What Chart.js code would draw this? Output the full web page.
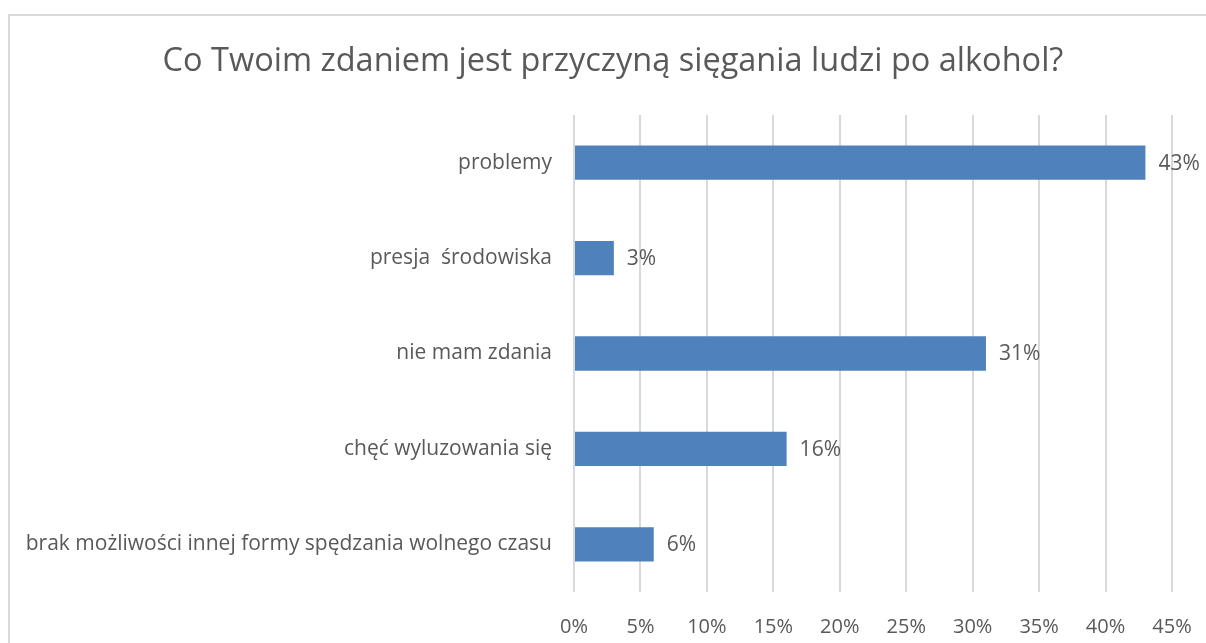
<!DOCTYPE html>
<html>
<head>
<meta charset="utf-8">
<script src="https://cdn.jsdelivr.net/npm/chart.js@4/dist/chart.umd.min.js"></script>
<style>
  html, body { margin: 0; padding: 0; background: #fff; overflow: hidden; }
  #frame {
    position: absolute; left: 8px; top: 14px; width: 1250px; height: 700px;
    border-left: 2px solid #d9d9d9; border-top: 2px solid #d9d9d9;
  }
  #wrap { position: absolute; left: 0; top: 0; width: 1206px; height: 643px; }
</style>
</head>
<body>
<div id="frame"></div>
<div id="wrap"><canvas id="reasonsChart"></canvas></div>
<script>
  const chartTitle = 'Co Twoim zdaniem jest przyczyną sięgania ludzi po alkohol?';
  const categories = [
    'problemy',
    'presja  środowiska',
    'nie mam zdania',
    'chęć wyluzowania się',
    'brak możliwości innej formy spędzania wolnego czasu'
  ];
  const shares = [43, 3, 31, 16, 6];
  const tickValues = [0, 5, 10, 15, 20, 25, 30, 35, 40, 45];

  const textColor = '#595959';
  const fontFamily = '"Open Sans", Lato, sans-serif';

  // title centred over the whole frame, not just the padded chart box
  const frameTitle = {
    id: 'frameTitle',
    afterDraw(chart) {
      const ctx = chart.ctx;
      ctx.save();
      ctx.font = '32.5px ' + fontFamily;
      ctx.fillStyle = textColor;
      ctx.textAlign = 'center';
      ctx.textBaseline = 'middle';
      ctx.fillText(chartTitle, 613, 62);
      ctx.restore();
    }
  };

  // percent labels to the right of each bar
  const barValueLabels = {
    id: 'barValueLabels',
    afterDatasetsDraw(chart) {
      const ctx = chart.ctx;
      const meta = chart.getDatasetMeta(0);
      ctx.save();
      ctx.font = '21px ' + fontFamily;
      ctx.fillStyle = textColor;
      ctx.textAlign = 'left';
      ctx.textBaseline = 'middle';
      meta.data.forEach((bar, i) => {
        ctx.fillText(shares[i] + '%', bar.x + 13, bar.y + 1);
      });
      ctx.restore();
    }
  };

  const ctx = document.getElementById('reasonsChart').getContext('2d');
  const reasonsChart = new Chart(ctx, {
    type: 'bar',
    data: {
      labels: categories,
      datasets: [{
        data: shares,
        backgroundColor: '#4f81bd',
        borderWidth: 0,
        barPercentage: 0.36,
        categoryPercentage: 1
      }]
    },
    options: {
      indexAxis: 'y',
      responsive: true,
      maintainAspectRatio: false,
      animation: false,
      layout: {
        padding: { left: 10, right: 34, top: 115, bottom: 0 }
      },
      plugins: {
        legend: { display: false },
        tooltip: { enabled: false },
        title: { display: false }
      },
      scales: {
        x: {
          min: 0,
          max: 45,
          afterBuildTicks(scale) {
            scale.ticks = tickValues.map(v => ({ value: v }));
          },
          afterFit(scale) {
            scale.height = 51;
            // tick padding should only push labels down, not shrink the plot sideways
            scale.paddingLeft = 0;
            scale.paddingRight = 0;
          },
          grid: { color: '#d9d9d9', lineWidth: 2, drawTicks: false },
          border: { display: false },
          ticks: {
            color: textColor,
            font: { family: fontFamily, size: 20 },
            padding: 23,
            callback: v => v + '%'
          }
        },
        y: {
          afterFit(scale) {
            scale.width = 564;
            scale.paddingTop = 0;
            scale.paddingBottom = 0;
          },
          grid: { display: false, drawTicks: false },
          border: { display: false },
          ticks: {
            color: textColor,
            font: { family: fontFamily, size: 21 },
            padding: 22
          }
        }
      }
    },
    plugins: [barValueLabels, frameTitle]
  });
</script>
</body>
</html>
